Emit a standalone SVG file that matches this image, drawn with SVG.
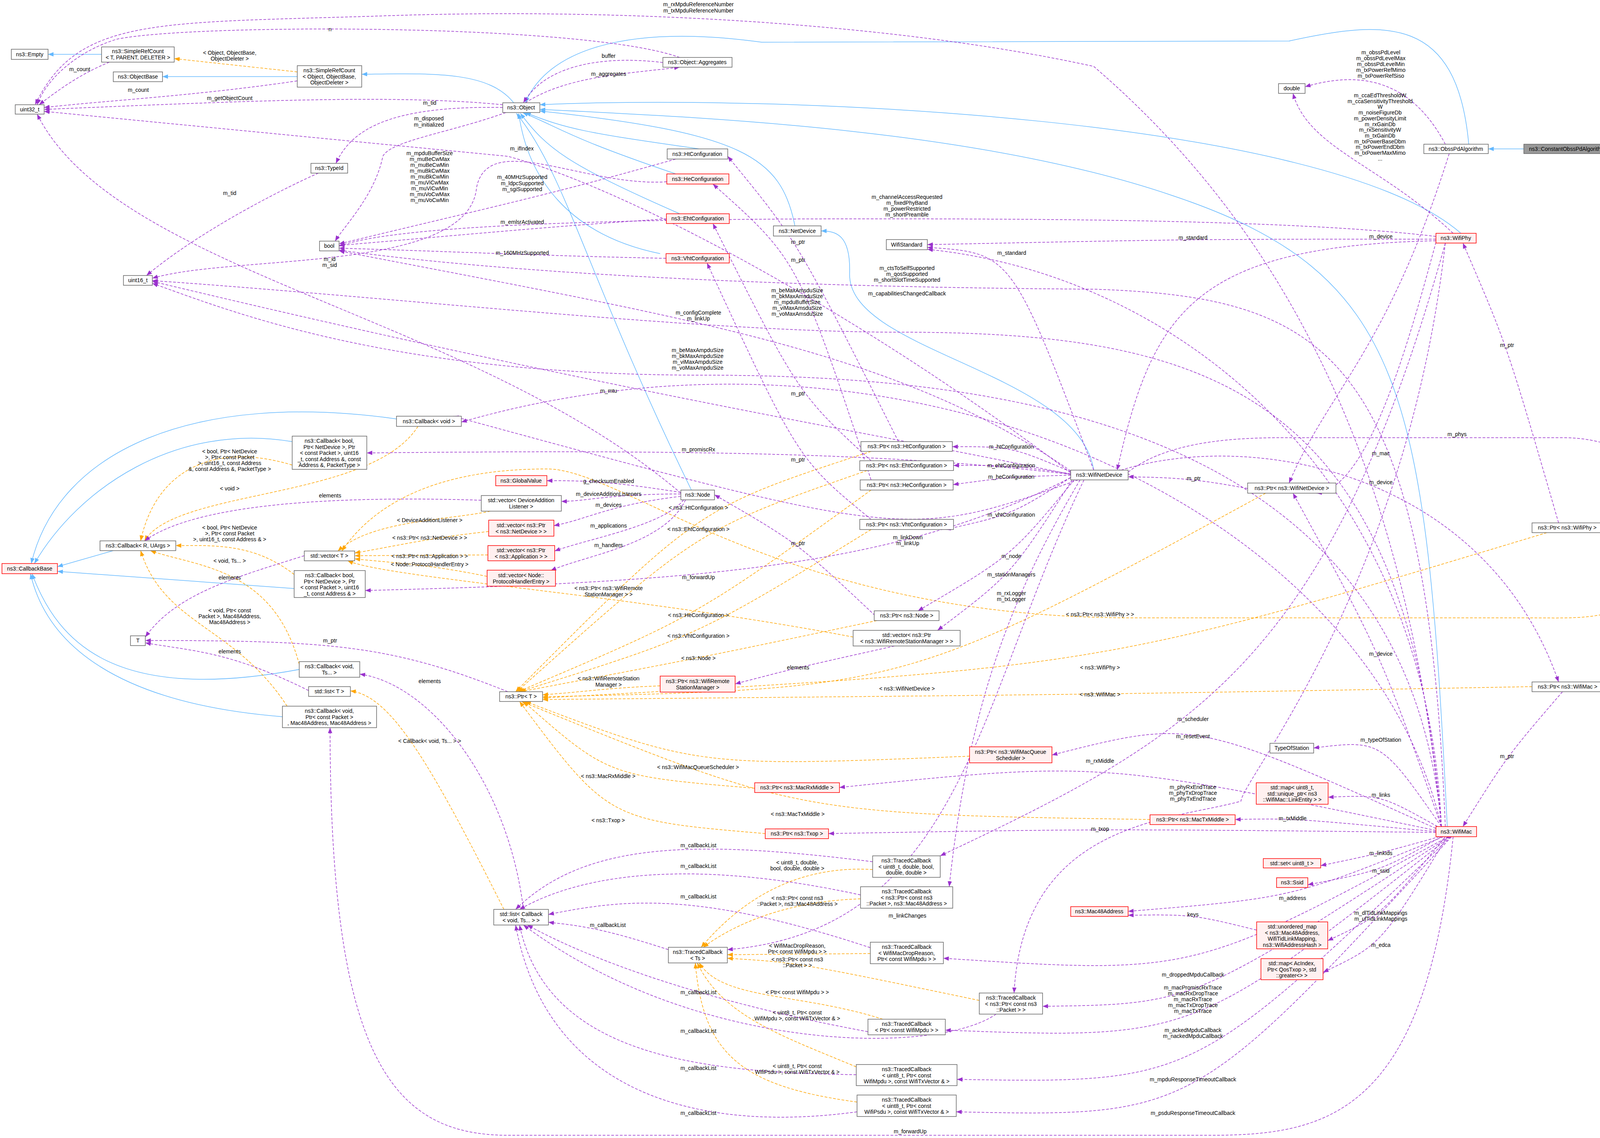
<svg xmlns="http://www.w3.org/2000/svg" width="4400" height="2912" viewBox="0 0 4400 2912">
<style>
text{font-family:"Liberation Sans",Arial,sans-serif;font-size:14px;fill:#000;text-anchor:middle}
.n rect{fill:#fff;stroke:#666;stroke-width:1.5}
.r rect{fill:#fff0f0;stroke:#ff0000;stroke-width:1.5}
.g rect{fill:#999;stroke:#666;stroke-width:1.5}
#edges path{fill:none;stroke-width:1.5}
#edges .u{stroke:#9a32cd;stroke-dasharray:7,4;marker-end:url(#mu)}
#edges .i{stroke:#63b8ff;marker-end:url(#mi)}
#edges .t{stroke:#ffa500;stroke-dasharray:7,4;marker-end:url(#mt)}
</style>
<defs>
<marker id="mu" markerUnits="userSpaceOnUse" markerWidth="16" markerHeight="12" refX="14" refY="5.5" orient="auto"><path d="M0,0 L14,5.5 L0,11 z" fill="#9a32cd"/></marker>
<marker id="mi" markerUnits="userSpaceOnUse" markerWidth="16" markerHeight="12" refX="14" refY="5.5" orient="auto"><path d="M0,0 L14,5.5 L0,11 z" fill="#63b8ff"/></marker>
<marker id="mt" markerUnits="userSpaceOnUse" markerWidth="16" markerHeight="12" refX="14" refY="5.5" orient="auto"><path d="M0,0 L14,5.5 L0,11 z" fill="#ffa500"/></marker>
</defs>
<rect width="4400" height="2912" fill="#fff"/>
<g id="edges">
<!-- inheritance -->
<path class="i" d="M260,139 L123,139"/>
<path class="i" d="M761,196 L416,196"/>
<path class="i" d="M1315,263 C1250,180 1100,188 926,190"/>
<path class="i" d="M3760,369 C3730,40 3550,50 3300,105 L1950,108 C1600,60 1400,130 1345,263"/>
<path class="i" d="M3740,597 C3400,300 2000,240 1382,268"/>
<path class="i" d="M3705,2115 C3650,1000 3600,700 3000,500 C2500,330 1800,300 1382,280"/>
<path class="i" d="M1790,381 C1500,340 1450,330 1345,288"/>
<path class="i" d="M1730,445 C1450,350 1440,330 1338,288"/>
<path class="i" d="M1740,547 C1450,420 1400,380 1332,290"/>
<path class="i" d="M1690,649 C1450,600 1350,450 1328,290"/>
<path class="i" d="M2035,578 C2000,400 1900,340 1382,284"/>
<path class="i" d="M1770,1254 C1500,700 1450,450 1322,290"/>
<path class="i" d="M2800,1203 C2760,950 2170,900 2175,700 C2178,600 2140,591 2102,591"/>
<path class="i" d="M3901,381 L3810,381"/>
<path class="i" d="M1015,1072 C500,1000 150,1150 80,1442"/>
<path class="i" d="M748,1130 C450,1080 200,1250 88,1442"/>
<path class="i" d="M290,1409 L147,1450"/>
<path class="i" d="M753,1506 L147,1462"/>
<path class="i" d="M766,1713 C300,1800 150,1650 82,1468"/>
<path class="i" d="M723,1834 C300,1800 120,1650 78,1468"/>
<!-- template -->
<path class="t" d="M761,184 L446,150"/>
<path class="t" d="M748,1190 C550,1130 400,1200 360,1384"/>
<path class="t" d="M1070,1091 C950,1280 450,1250 370,1384"/>
<path class="t" d="M753,1470 C650,1390 550,1396 450,1396"/>
<path class="t" d="M766,1700 C700,1450 500,1450 385,1409"/>
<path class="t" d="M735,1807 C600,1600 420,1600 360,1409"/>
<path class="t" d="M1255,1308 C1150,1331 950,1331 865,1410"/>
<path class="t" d="M1251,1360 C1100,1376 1000,1400 908,1415"/>
<path class="t" d="M1249,1420 L908,1422"/>
<path class="t" d="M1247,1475 C1100,1444 1000,1440 908,1430"/>
<path class="t" d="M2184,1630 C1600,1520 1000,1480 890,1435"/>
<path class="t" d="M4300,1371 C4200,1600 4100,1581 3900,1581 L2900,1581 C2000,1581 1600,1200 1400,1200 C1100,1200 950,1300 875,1410"/>
<path class="t" d="M1290,2327 C1100,1950 1000,1780 897,1768"/>
<path class="t" d="M2230,1155 C1788,1299 1788,1299 1320,1770"/>
<path class="t" d="M2220,1204 C1788,1354 1788,1354 1323,1770"/>
<path class="t" d="M2230,1254 C1788,1574 1788,1574 1326,1770"/>
<path class="t" d="M2230,1355 C1788,1627 1788,1627 1329,1770"/>
<path class="t" d="M2245,1588 C1788,1684 1788,1684 1332,1770"/>
<path class="t" d="M1690,1755 C1558,1760 1500,1770 1389,1778"/>
<path class="t" d="M3240,1262 C2322,1762 2322,1762 1389,1783"/>
<path class="t" d="M3960,1363 C2816,1708 2816,1708 1389,1786"/>
<path class="t" d="M3922,1757 C2816,1777 2816,1777 1389,1790"/>
<path class="t" d="M2482,1935 C1787,1963 1787,1963 1345,1795"/>
<path class="t" d="M1932,2017 C1557,1986 1557,1986 1340,1795"/>
<path class="t" d="M2944,2097 C2042,2083 2042,2083 1335,1795"/>
<path class="t" d="M1959,2133 C1557,2099 1557,2099 1330,1795"/>
<path class="t" d="M2234,2225 C2041,2214 1900,2300 1795,2424"/>
<path class="t" d="M2203,2300 C2041,2305 1900,2350 1800,2424"/>
<path class="t" d="M2228,2440 L1862,2443"/>
<path class="t" d="M2507,2560 C2041,2463 2041,2463 1862,2452"/>
<path class="t" d="M2260,2608 C2041,2539 1850,2560 1790,2464"/>
<path class="t" d="M2192,2730 C2000,2650 1850,2600 1785,2464"/>
<path class="t" d="M2194,2820 C1900,2780 1800,2700 1780,2464"/>
<!-- usage -->
<path class="u" d="M1740,147 C1500,60 500,60 300,100 C200,130 120,200 95,268"/>
<path class="u" d="M3690,2115 C3600,1200 3300,600 2800,170 C2300,60 1600,20 1000,40 C400,60 200,40 90,268"/>
<path class="u" d="M280,159 C204,190 150,230 100,268"/>
<path class="u" d="M761,207 C500,245 300,255 113,275"/>
<path class="u" d="M1287,268 C1000,240 600,260 113,280"/>
<path class="u" d="M1287,275 C1000,270 900,330 860,418"/>
<path class="u" d="M1295,288 C1150,340 1000,360 980,400 C960,500 880,580 858,617"/>
<path class="u" d="M2741,1210 C2200,800 1600,480 1300,400 L113,285"/>
<path class="u" d="M1707,465 C1500,480 1250,330 1220,480 C1200,700 600,650 390,712"/>
<path class="u" d="M1730,407 C1400,500 1300,520 868,624"/>
<path class="u" d="M1706,560 C1400,580 1200,600 868,628"/>
<path class="u" d="M1705,661 C1400,655 1200,645 868,635"/>
<path class="u" d="M1743,1262 C1200,800 300,700 95,292"/>
<path class="u" d="M3676,605 C3300,560 2600,560 2200,560 C1500,560 1000,580 868,630"/>
<path class="u" d="M3700,2115 C3650,900 3400,760 2800,740 C2000,735 1300,700 868,640"/>
<path class="u" d="M2741,1205 C2300,900 1788,820 868,642"/>
<path class="u" d="M2741,1214 C2300,1160 1788,1150 939,1159"/>
<path class="u" d="M2741,1222 C2300,1450 1788,1490 935,1511"/>
<path class="u" d="M2745,1215 C2200,1100 1558,1000 390,720"/>
<path class="u" d="M3690,2115 C3600,1100 2600,960 1800,960 C1000,960 600,800 390,725"/>
<path class="u" d="M815,443 C700,494 500,600 375,705"/>
<path class="u" d="M3690,2115 C3600,1000 3100,850 2300,850 C1800,850 1000,760 390,718"/>
<path class="u" d="M1697,160 C1558,143 1400,160 1340,263"/>
<path class="u" d="M1345,263 C1450,195 1600,189 1740,172"/>
<path class="u" d="M2300,1130 C2043,619 2043,619 1863,400"/>
<path class="u" d="M2230,1228 C2043,665 2043,665 1825,471"/>
<path class="u" d="M2230,1179 C2043,1007 2043,1007 1825,572"/>
<path class="u" d="M2230,1329 C2043,1176 2043,1176 1810,673"/>
<path class="u" d="M2240,1575 C2043,1390 2043,1390 1829,1266"/>
<path class="u" d="M3676,612 C3054,612 3054,612 2374,626"/>
<path class="u" d="M3676,616 C3054,630 2950,800 2860,1203"/>
<path class="u" d="M2800,1203 C2590,647 2590,647 2374,633"/>
<path class="u" d="M3690,2115 C3650,1200 3000,700 2374,638"/>
<path class="u" d="M3690,2115 C3500,1300 2322,751 1181,1080"/>
<path class="u" d="M2760,1228 C2324,1382 2324,1382 1160,1065"/>
<path class="u" d="M3700,369 C3600,180 3450,190 3341,222"/>
<path class="u" d="M3720,597 C3533,420 3350,380 3310,239"/>
<path class="u" d="M3990,1338 C3858,883 3858,883 3745,622"/>
<path class="u" d="M3676,620 C3600,900 3500,1250 3370,1262"/>
<path class="u" d="M3690,2115 C3535,1673 3535,1673 3310,1262"/>
<path class="u" d="M3710,393 C3550,900 3400,1000 3300,1236"/>
<path class="u" d="M3194,1250 C3056,1224 3000,1222 2888,1220"/>
<path class="u" d="M2888,1208 C3000,1120 3200,1120 3300,1120 L4000,1120 C4200,1120 4280,1250 4300,1331"/>
<path class="u" d="M2870,1203 C3200,1100 3800,1200 3990,1745"/>
<path class="u" d="M4239,1351 L4103,1351"/>
<path class="u" d="M4000,1770 C3858,1935 3858,1935 3745,2115"/>
<path class="u" d="M2750,1228 C2589,1423 2589,1423 2350,1563"/>
<path class="u" d="M2745,1228 C2589,1470 2589,1470 2400,1613"/>
<path class="u" d="M2741,1207 C2589,1143 2589,1143 2438,1143"/>
<path class="u" d="M2741,1212 C2589,1191 2589,1191 2441,1191"/>
<path class="u" d="M2741,1216 C2589,1220 2589,1220 2440,1240"/>
<path class="u" d="M2741,1222 C2589,1317 2589,1317 2420,1355"/>
<path class="u" d="M2290,1653 C2043,1708 2043,1708 1882,1750"/>
<path class="u" d="M2765,1228 C2589,1525 2480,1800 2430,2269"/>
<path class="u" d="M2775,1228 C2500,1800 2460,2380 1862,2430"/>
<path class="u" d="M3676,2120 C3054,1840 3054,1840 2693,1932"/>
<path class="u" d="M3700,622 C3400,1700 3054,1884 2407,2190"/>
<path class="u" d="M3676,2125 C2816,1947 2816,1947 2149,2015"/>
<path class="u" d="M3676,2128 C3309,2094 3309,2094 3162,2097"/>
<path class="u" d="M3676,2130 C2816,2121 2816,2121 2121,2133"/>
<path class="u" d="M3690,2115 C3535,1893 3535,1893 3363,1914"/>
<path class="u" d="M3680,2115 C3535,2034 3535,2034 3400,2040"/>
<path class="u" d="M3685,2141 C3535,2183 3535,2183 3381,2215"/>
<path class="u" d="M3690,2141 C3535,2228 3535,2228 3348,2264"/>
<path class="u" d="M3695,2141 C3309,2298 3309,2298 2888,2332"/>
<path class="u" d="M3217,2380 C3054,2340 3054,2340 2888,2342"/>
<path class="u" d="M3700,2141 C3535,2343 3535,2343 3399,2407"/>
<path class="u" d="M3705,2141 C3535,2418 3535,2418 3387,2488"/>
<path class="u" d="M3708,2141 C3054,2494 3054,2494 2415,2452"/>
<path class="u" d="M3710,2141 C3054,2570 3054,2570 2669,2575"/>
<path class="u" d="M3712,2141 C3054,2660 3054,2660 2420,2636"/>
<path class="u" d="M3714,2141 C3054,2772 3054,2772 2450,2762"/>
<path class="u" d="M3716,2141 C3054,2858 3054,2858 2448,2845"/>
<path class="u" d="M3720,2141 C3650,2850 3400,2905 3100,2905 L1300,2905 C1000,2905 845,2700 845,1862"/>
<path class="u" d="M3700,622 C3600,1500 3177,2000 3177,2050 C3000,2100 2620,2100 2596,2541"/>
<path class="u" d="M2234,2205 C1788,2150 1500,2150 1320,2327"/>
<path class="u" d="M2203,2290 C1788,2200 1500,2230 1330,2327"/>
<path class="u" d="M2228,2425 C1788,2280 1600,2300 1404,2340"/>
<path class="u" d="M1711,2430 C1556,2380 1500,2370 1404,2360"/>
<path class="u" d="M2222,2640 C1788,2560 1500,2450 1350,2367"/>
<path class="u" d="M2550,2595 C2400,2700 1788,2700 1340,2367"/>
<path class="u" d="M2192,2750 C1788,2745 1400,2700 1330,2367"/>
<path class="u" d="M2194,2845 C1788,2900 1400,2800 1320,2367"/>
<path class="u" d="M1340,2327 C1300,2000 1100,1750 921,1725"/>
<path class="u" d="M779,1422 C600,1478 450,1520 372,1630"/>
<path class="u" d="M790,1767 C588,1667 500,1667 372,1645"/>
<path class="u" d="M1300,1770 C1000,1650 845,1639 372,1639"/>
<path class="u" d="M1743,1260 C1558,1231 1500,1230 1400,1230"/>
<path class="u" d="M1743,1264 C1558,1264 1500,1283 1437,1283"/>
<path class="u" d="M1743,1270 C1558,1292 1500,1330 1418,1345"/>
<path class="u" d="M1750,1279 C1700,1345 1500,1380 1420,1410"/>
<path class="u" d="M1755,1279 C1700,1395 1500,1420 1410,1460"/>
<path class="u" d="M1232,1280 C845,1268 500,1290 370,1384"/>
</g>
<g id="edge-labels">
<text x="845" y="80">n</text>
<text x="1788" y="16">m_rxMpduReferenceNumber<tspan x="1788" dy="15.5">m_txMpduReferenceNumber</tspan></text>
<text x="204" y="182">m_count</text>
<text x="354" y="235">m_count</text>
<text x="588" y="256">m_getObjectCount</text>
<text x="1100" y="268">m_tid</text>
<text x="1098" y="308">m_disposed<tspan x="1098" dy="15.5">m_initialized</tspan></text>
<text x="1336" y="385">m_ifIndex</text>
<text x="1100" y="397">m_mpduBufferSize<tspan x="1100" dy="15">m_muBeCwMax</tspan><tspan x="1100" dy="15">m_muBeCwMin</tspan><tspan x="1100" dy="15">m_muBkCwMax</tspan><tspan x="1100" dy="15">m_muBkCwMin</tspan><tspan x="1100" dy="15">m_muViCwMax</tspan><tspan x="1100" dy="15">m_muViCwMin</tspan><tspan x="1100" dy="15">m_muVoCwMax</tspan><tspan x="1100" dy="15">m_muVoCwMin</tspan></text>
<text x="1337" y="458">m_40MHzSupported<tspan x="1337" dy="15.5">m_ldpcSupported</tspan><tspan x="1337" dy="15.5">m_sgiSupported</tspan></text>
<text x="1337" y="573">m_emlsrActivated</text>
<text x="1337" y="652">m_160MHzSupported</text>
<text x="844" y="668">m_id<tspan x="844" dy="15">m_sid</tspan></text>
<text x="588" y="499">m_tid</text>
<text x="1558" y="148">buffer</text>
<text x="1558" y="194">m_aggregates</text>
<text x="2322" y="509">m_channelAccessRequested<tspan x="2322" dy="15">m_fixedPhyBand</tspan><tspan x="2322" dy="15">m_powerRestricted</tspan><tspan x="2322" dy="15">m_shortPreamble</tspan></text>
<text x="2043" y="624">m_ptr</text>
<text x="2043" y="670">m_ptr</text>
<text x="2590" y="652">m_standard</text>
<text x="3054" y="613">m_standard</text>
<text x="3535" y="610">m_device</text>
<text x="2322" y="691">m_ctsToSelfSupported<tspan x="2322" dy="15">m_qosSupported</tspan><tspan x="2322" dy="15">m_shortSlotTimeSupported</tspan></text>
<text x="2322" y="756">m_capabilitiesChangedCallback</text>
<text x="2041" y="748">m_beMaxAmsduSize<tspan x="2041" dy="15">m_bkMaxAmsduSize</tspan><tspan x="2041" dy="15">m_mpduBufferSize</tspan><tspan x="2041" dy="15">m_viMaxAmsduSize</tspan><tspan x="2041" dy="15">m_voMaxAmsduSize</tspan></text>
<text x="1788" y="805">m_configComplete<tspan x="1788" dy="15">m_linkUp</tspan></text>
<text x="1786" y="901">m_beMaxAmpduSize<tspan x="1786" dy="15">m_bkMaxAmpduSize</tspan><tspan x="1786" dy="15">m_viMaxAmpduSize</tspan><tspan x="1786" dy="15">m_voMaxAmpduSize</tspan></text>
<text x="1558" y="1005">m_mtu</text>
<text x="2043" y="1012">m_ptr</text>
<text x="3535" y="139">m_obssPdLevel<tspan x="3535" dy="15">m_obssPdLevelMax</tspan><tspan x="3535" dy="15">m_obssPdLevelMin</tspan><tspan x="3535" dy="15">m_txPowerRefMimo</tspan><tspan x="3535" dy="15">m_txPowerRefSiso</tspan></text>
<text x="3533" y="249">m_ccaEdThresholdW<tspan x="3533" dy="14.7">m_ccaSensitivityThreshold</tspan><tspan x="3533" dy="14.7">W</tspan><tspan x="3533" dy="14.7">m_noiseFigureDb</tspan><tspan x="3533" dy="14.7">m_powerDensityLimit</tspan><tspan x="3533" dy="14.7">m_rxGainDb</tspan><tspan x="3533" dy="14.7">m_rxSensitivityW</tspan><tspan x="3533" dy="14.7">m_txGainDb</tspan><tspan x="3533" dy="14.7">m_txPowerBaseDbm</tspan><tspan x="3533" dy="14.7">m_txPowerEndDbm</tspan><tspan x="3533" dy="14.7">m_txPowerMaxMimo</tspan><tspan x="3533" dy="14.7">...</tspan></text>
<text x="3858" y="888">m_ptr</text>
<text x="588" y="140">&lt; Object, ObjectBase,<tspan x="588" dy="15">ObjectDeleter &gt;</tspan></text>
<text x="588" y="1160">&lt; bool, Ptr&lt; NetDevice<tspan x="588" dy="15">&gt;, Ptr&lt; const Packet</tspan><tspan x="588" dy="15">&gt;, uint16_t, const Address</tspan><tspan x="588" dy="15">&amp;, const Address &amp;, PacketType &gt;</tspan></text>
<text x="588" y="1255">&lt; void &gt;</text>
<text x="845" y="1273">elements</text>
<text x="588" y="1355">&lt; bool, Ptr&lt; NetDevice<tspan x="588" dy="15">&gt;, Ptr&lt; const Packet</tspan><tspan x="588" dy="15">&gt;, uint16_t, const Address &amp; &gt;</tspan></text>
<text x="588" y="1440">&lt; void, Ts... &gt;</text>
<text x="588" y="1483">elements</text>
<text x="588" y="1567">&lt; void, Ptr&lt; const<tspan x="588" dy="15">Packet &gt;, Mac48Address,</tspan><tspan x="588" dy="15">Mac48Address &gt;</tspan></text>
<text x="845" y="1644">m_ptr</text>
<text x="588" y="1672">elements</text>
<text x="1100" y="1748">elements</text>
<text x="1100" y="1901">&lt; Callback&lt; void, Ts... &gt; &gt;</text>
<text x="1100" y="1336">&lt; DeviceAdditionListener &gt;</text>
<text x="1100" y="1381">&lt; ns3::Ptr&lt; ns3::NetDevice &gt; &gt;</text>
<text x="1100" y="1428">&lt; ns3::Ptr&lt; ns3::Application &gt; &gt;</text>
<text x="1100" y="1449">&lt; Node::ProtocolHandlerEntry &gt;</text>
<text x="1558" y="1236">g_checksumEnabled</text>
<text x="1558" y="1269">m_deviceAdditionListeners</text>
<text x="1558" y="1297">m_devices</text>
<text x="1558" y="1350">m_applications</text>
<text x="1558" y="1400">m_handlers</text>
<text x="1788" y="1155">m_promiscRx</text>
<text x="2043" y="1181">m_ptr</text>
<text x="2043" y="1395">m_ptr</text>
<text x="1788" y="1304">&lt; ns3::HtConfiguration &gt;</text>
<text x="1788" y="1359">&lt; ns3::EhtConfiguration &gt;</text>
<text x="1788" y="1482">m_forwardUp</text>
<text x="1558" y="1510">&lt; ns3::Ptr&lt; ns3::WifiRemote<tspan x="1558" dy="15.5">StationManager &gt; &gt;</tspan></text>
<text x="1788" y="1579">&lt; ns3::HeConfiguration &gt;</text>
<text x="1788" y="1632">&lt; ns3::VhtConfiguration &gt;</text>
<text x="1788" y="1689">&lt; ns3::Node &gt;</text>
<text x="1558" y="1741">&lt; ns3::WifiRemoteStation<tspan x="1558" dy="15.5">Manager &gt;</tspan></text>
<text x="2043" y="1713">elements</text>
<text x="2322" y="1767">&lt; ns3::WifiNetDevice &gt;</text>
<text x="2589" y="1148">m_htConfiguration</text>
<text x="2589" y="1196">m_ehtConfiguration</text>
<text x="2589" y="1225">m_heConfiguration</text>
<text x="2589" y="1322">m_vhtConfiguration</text>
<text x="2324" y="1380">m_linkDown<tspan x="2324" dy="15">m_linkUp</tspan></text>
<text x="2589" y="1428">m_node</text>
<text x="2589" y="1475">m_stationManagers</text>
<text x="2589" y="1523">m_rxLogger<tspan x="2589" dy="15">m_txLogger</tspan></text>
<text x="3730" y="1116">m_phys</text>
<text x="3535" y="1165">m_mac</text>
<text x="3056" y="1229">m_ptr</text>
<text x="3535" y="1239">m_device</text>
<text x="4183" y="1348">elements</text>
<text x="2816" y="1577">&lt; ns3::Ptr&lt; ns3::WifiPhy &gt; &gt;</text>
<text x="3535" y="1678">m_device</text>
<text x="2816" y="1713">&lt; ns3::WifiPhy &gt;</text>
<text x="2816" y="1782">&lt; ns3::WifiMac &gt;</text>
<text x="3054" y="1845">m_scheduler</text>
<text x="3054" y="1889">m_resetEvent</text>
<text x="3535" y="1898">m_typeOfStation</text>
<text x="3858" y="1940">m_ptr</text>
<text x="2816" y="1952">m_rxMiddle</text>
<text x="1787" y="1968">&lt; ns3::WifiMacQueueScheduler &gt;</text>
<text x="1557" y="1991">&lt; ns3::MacRxMiddle &gt;</text>
<text x="3054" y="2019">m_phyRxEndTrace<tspan x="3054" dy="15">m_phyTxDropTrace</tspan><tspan x="3054" dy="15">m_phyTxEndTrace</tspan></text>
<text x="3535" y="2039">m_links</text>
<text x="2042" y="2088">&lt; ns3::MacTxMiddle &gt;</text>
<text x="3309" y="2099">m_txMiddle</text>
<text x="1557" y="2104">&lt; ns3::Txop &gt;</text>
<text x="2816" y="2126">m_txop</text>
<text x="1788" y="2168">m_callbackList</text>
<text x="3535" y="2188">m_linkIds</text>
<text x="2041" y="2212">&lt; uint8_t, double,<tspan x="2041" dy="15">bool, double, double &gt;</tspan></text>
<text x="1788" y="2221">m_callbackList</text>
<text x="3535" y="2233">m_ssid</text>
<text x="1788" y="2299">m_callbackList</text>
<text x="2041" y="2303">&lt; ns3::Ptr&lt; const ns3<tspan x="2041" dy="15">::Packet &gt;, ns3::Mac48Address &gt;</tspan></text>
<text x="3309" y="2303">m_address</text>
<text x="3054" y="2345">keys</text>
<text x="3535" y="2341">m_dlTidLinkMappings<tspan x="3535" dy="15">m_ulTidLinkMappings</tspan></text>
<text x="2323" y="2348">m_linkChanges</text>
<text x="1556" y="2372">m_callbackList</text>
<text x="3535" y="2423">m_edca</text>
<text x="2041" y="2425">&lt; WifiMacDropReason,<tspan x="2041" dy="15">Ptr&lt; const WifiMpdu &gt; &gt;</tspan></text>
<text x="2041" y="2460">&lt; ns3::Ptr&lt; const ns3<tspan x="2041" dy="15">::Packet &gt; &gt;</tspan></text>
<text x="3054" y="2499">m_droppedMpduCallback</text>
<text x="3054" y="2532">m_macPromiscRxTrace<tspan x="3054" dy="15">m_macRxDropTrace</tspan><tspan x="3054" dy="15">m_macRxTrace</tspan><tspan x="3054" dy="15">m_macTxDropTrace</tspan><tspan x="3054" dy="15">m_macTxTrace</tspan></text>
<text x="2041" y="2544">&lt; Ptr&lt; const WifiMpdu &gt; &gt;</text>
<text x="1788" y="2544">m_callbackList</text>
<text x="2041" y="2596">&lt; uint8_t, Ptr&lt; const<tspan x="2041" dy="15">WifiMpdu &gt;, const WifiTxVector &amp; &gt;</tspan></text>
<text x="1788" y="2643">m_callbackList</text>
<text x="3054" y="2641">m_ackedMpduCallback<tspan x="3054" dy="15">m_nackedMpduCallback</tspan></text>
<text x="2041" y="2733">&lt; uint8_t, Ptr&lt; const<tspan x="2041" dy="15">WifiPsdu &gt;, const WifiTxVector &amp; &gt;</tspan></text>
<text x="1788" y="2738">m_callbackList</text>
<text x="3054" y="2767">m_mpduResponseTimeoutCallback</text>
<text x="1788" y="2853">m_callbackList</text>
<text x="3054" y="2853">m_psduResponseTimeoutCallback</text>
<text x="2330" y="2900">m_forwardUp</text>
</g>
<g id="n1" class="n"><rect x="29" y="126" width="94" height="26"/><text x="76" y="144">ns3::Empty</text></g>
<g id="n2" class="n"><rect x="260" y="120" width="186" height="39"/><text x="353" y="136">ns3::SimpleRefCount<tspan x="353" dy="15.5">&lt; T, PARENT, DELETER &gt;</tspan></text></g>
<g id="n3" class="n"><rect x="290" y="184" width="126" height="25"/><text x="353" y="201">ns3::ObjectBase</text></g>
<g id="n4" class="n"><rect x="761" y="168" width="165" height="55"/><text x="843" y="185">ns3::SimpleRefCount<tspan x="843" dy="15.5">&lt; Object, ObjectBase,</tspan><tspan x="843" dy="15.5">ObjectDeleter &gt;</tspan></text></g>
<g id="n5" class="n"><rect x="39" y="268" width="74" height="24"/><text x="76" y="285">uint32_t</text></g>
<g id="n6" class="n"><rect x="1287" y="263" width="95" height="25"/><text x="1334" y="280">ns3::Object</text></g>
<g id="n7" class="n"><rect x="796" y="418" width="94" height="25"/><text x="843" y="435">ns3::TypeId</text></g>
<g id="n8" class="n"><rect x="818" y="617" width="50" height="25"/><text x="843" y="634">bool</text></g>
<g id="n9" class="n"><rect x="316" y="705" width="74" height="25"/><text x="353" y="722">uint16_t</text></g>
<g id="n10" class="n"><rect x="1697" y="147" width="177" height="25"/><text x="1785" y="164">ns3::Object::Aggregates</text></g>
<g id="n11" class="n"><rect x="1708" y="381" width="155" height="26"/><text x="1785" y="399">ns3::HtConfiguration</text></g>
<g id="n12" class="r"><rect x="1707" y="445" width="159" height="26"/><text x="1786" y="463">ns3::HeConfiguration</text></g>
<g id="n13" class="r"><rect x="1706" y="547" width="161" height="25"/><text x="1786" y="564">ns3::EhtConfiguration</text></g>
<g id="n14" class="r"><rect x="1705" y="649" width="162" height="24"/><text x="1786" y="666">ns3::VhtConfiguration</text></g>
<g id="n15" class="n"><rect x="1980" y="578" width="122" height="26"/><text x="2041" y="596">ns3::NetDevice</text></g>
<g id="n16" class="n"><rect x="2269" y="613" width="105" height="26"/><text x="2321" y="631">WifiStandard</text></g>
<g id="n17" class="n"><rect x="3273" y="214" width="68" height="25"/><text x="3307" y="231">double</text></g>
<g id="n18" class="n"><rect x="3645" y="369" width="165" height="24"/><text x="3727" y="386">ns3::ObssPdAlgorithm</text></g>
<g id="n19" class="g"><rect x="3901" y="369" width="222" height="24"/><text x="4012" y="386">ns3::ConstantObssPdAlgorithm</text></g>
<g id="n20" class="r"><rect x="3676" y="597" width="103" height="25"/><text x="3727" y="614">ns3::WifiPhy</text></g>
<g id="n21" class="n"><rect x="1015" y="1065" width="166" height="26"/><text x="1098" y="1083">ns3::Callback&lt; void &gt;</text></g>
<g id="n22" class="n"><rect x="748" y="1116" width="191" height="85"/><text x="843" y="1133">ns3::Callback&lt; bool,<tspan x="843" dy="15.5">Ptr&lt; NetDevice &gt;, Ptr</tspan><tspan x="843" dy="15.5">&lt; const Packet &gt;, uint16</tspan><tspan x="843" dy="15.5">_t, const Address &amp;, const</tspan><tspan x="843" dy="15.5">Address &amp;, PacketType &gt;</tspan></text></g>
<g id="n23" class="r"><rect x="1269" y="1217" width="131" height="26"/><text x="1334" y="1235">ns3::GlobalValue</text></g>
<g id="n24" class="n"><rect x="1232" y="1268" width="205" height="40"/><text x="1334" y="1285">std::vector&lt; DeviceAddition<tspan x="1334" dy="15.5">Listener &gt;</tspan></text></g>
<g id="n25" class="r"><rect x="1251" y="1331" width="167" height="41"/><text x="1334" y="1349">std::vector&lt; ns3::Ptr<tspan x="1334" dy="15.5">&lt; ns3::NetDevice &gt; &gt;</tspan></text></g>
<g id="n26" class="r"><rect x="1249" y="1396" width="171" height="39"/><text x="1334" y="1413">std::vector&lt; ns3::Ptr<tspan x="1334" dy="15.5">&lt; ns3::Application &gt; &gt;</tspan></text></g>
<g id="n27" class="r"><rect x="1247" y="1459" width="175" height="41"/><text x="1334" y="1477">std::vector&lt; Node::<tspan x="1334" dy="15.5">ProtocolHandlerEntry &gt;</tspan></text></g>
<g id="n28" class="n"><rect x="256" y="1384" width="194" height="25"/><text x="353" y="1401">ns3::Callback&lt; R, UArgs &gt;</text></g>
<g id="n29" class="r"><rect x="5" y="1442" width="142" height="26"/><text x="76" y="1460">ns3::CallbackBase</text></g>
<g id="n30" class="n"><rect x="779" y="1410" width="129" height="25"/><text x="843" y="1427">std::vector&lt; T &gt;</text></g>
<g id="n31" class="n"><rect x="753" y="1460" width="182" height="69"/><text x="844" y="1477">ns3::Callback&lt; bool,<tspan x="844" dy="15.5">Ptr&lt; NetDevice &gt;, Ptr</tspan><tspan x="844" dy="15.5">&lt; const Packet &gt;, uint16</tspan><tspan x="844" dy="15.5">_t, const Address &amp; &gt;</tspan></text></g>
<g id="n32" class="n"><rect x="334" y="1627" width="38" height="25"/><text x="353" y="1644">T</text></g>
<g id="n33" class="n"><rect x="766" y="1693" width="155" height="40"/><text x="843" y="1710">ns3::Callback&lt; void,<tspan x="843" dy="15.5">Ts... &gt;</tspan></text></g>
<g id="n34" class="n"><rect x="790" y="1757" width="107" height="25"/><text x="843" y="1774">std::list&lt; T &gt;</text></g>
<g id="n35" class="n"><rect x="723" y="1807" width="241" height="55"/><text x="843" y="1824">ns3::Callback&lt; void,<tspan x="843" dy="15.5">Ptr&lt; const Packet &gt;</tspan><tspan x="843" dy="15.5">, Mac48Address, Mac48Address &gt;</tspan></text></g>
<g id="n36" class="n"><rect x="1279" y="1770" width="110" height="25"/><text x="1334" y="1787">ns3::Ptr&lt; T &gt;</text></g>
<g id="n37" class="n"><rect x="1743" y="1254" width="86" height="25"/><text x="1786" y="1271">ns3::Node</text></g>
<g id="n38" class="n"><rect x="2204" y="1130" width="234" height="25"/><text x="2321" y="1147">ns3::Ptr&lt; ns3::HtConfiguration &gt;</text></g>
<g id="n39" class="n"><rect x="2201" y="1179" width="240" height="25"/><text x="2321" y="1196">ns3::Ptr&lt; ns3::EhtConfiguration &gt;</text></g>
<g id="n40" class="n"><rect x="2202" y="1228" width="238" height="26"/><text x="2321" y="1246">ns3::Ptr&lt; ns3::HeConfiguration &gt;</text></g>
<g id="n41" class="n"><rect x="2201" y="1329" width="240" height="26"/><text x="2321" y="1347">ns3::Ptr&lt; ns3::VhtConfiguration &gt;</text></g>
<g id="n42" class="n"><rect x="2238" y="1563" width="166" height="25"/><text x="2321" y="1580">ns3::Ptr&lt; ns3::Node &gt;</text></g>
<g id="n43" class="n"><rect x="2184" y="1613" width="274" height="40"/><text x="2321" y="1630">std::vector&lt; ns3::Ptr<tspan x="2321" dy="15.5">&lt; ns3::WifiRemoteStationManager &gt; &gt;</tspan></text></g>
<g id="n44" class="r"><rect x="1690" y="1730" width="192" height="41"/><text x="1786" y="1748">ns3::Ptr&lt; ns3::WifiRemote<tspan x="1786" dy="15.5">StationManager &gt;</tspan></text></g>
<g id="n45" class="n"><rect x="2741" y="1203" width="147" height="25"/><text x="2814" y="1220">ns3::WifiNetDevice</text></g>
<g id="n46" class="n"><rect x="3194" y="1236" width="226" height="26"/><text x="3307" y="1254">ns3::Ptr&lt; ns3::WifiNetDevice &gt;</text></g>
<g id="n47" class="n"><rect x="3922" y="1338" width="181" height="25"/><text x="4012" y="1355">ns3::Ptr&lt; ns3::WifiPhy &gt;</text></g>
<g id="n48" class="n"><rect x="4239" y="1331" width="154" height="40"/><text x="4316" y="1348">std::vector&lt; ns3::Ptr<tspan x="4316" dy="15.5">&lt; ns3::WifiPhy &gt; &gt;</tspan></text></g>
<g id="n49" class="n"><rect x="3922" y="1745" width="182" height="25"/><text x="4013" y="1762">ns3::Ptr&lt; ns3::WifiMac &gt;</text></g>
<g id="n50" class="n"><rect x="3251" y="1902" width="112" height="25"/><text x="3307" y="1919">TypeOfStation</text></g>
<g id="n51" class="r"><rect x="2482" y="1911" width="211" height="41"/><text x="2587" y="1929">ns3::Ptr&lt; ns3::WifiMacQueue<tspan x="2587" dy="15.5">Scheduler &gt;</tspan></text></g>
<g id="n52" class="r"><rect x="1932" y="2003" width="217" height="25"/><text x="2040" y="2020">ns3::Ptr&lt; ns3::MacRxMiddle &gt;</text></g>
<g id="n53" class="r"><rect x="1959" y="2121" width="162" height="25"/><text x="2040" y="2138">ns3::Ptr&lt; ns3::Txop &gt;</text></g>
<g id="n54" class="n"><rect x="2234" y="2190" width="173" height="55"/><text x="2320" y="2207">ns3::TracedCallback<tspan x="2320" dy="15.5">&lt; uint8_t, double, bool,</tspan><tspan x="2320" dy="15.5">double, double &gt;</tspan></text></g>
<g id="n55" class="n"><rect x="2203" y="2269" width="236" height="55"/><text x="2321" y="2286">ns3::TracedCallback<tspan x="2321" dy="15.5">&lt; ns3::Ptr&lt; const ns3</tspan><tspan x="2321" dy="15.5">::Packet &gt;, ns3::Mac48Address &gt;</tspan></text></g>
<g id="n56" class="n"><rect x="1264" y="2327" width="140" height="40"/><text x="1334" y="2344">std::list&lt; Callback<tspan x="1334" dy="15.5">&lt; void, Ts... &gt; &gt;</tspan></text></g>
<g id="n57" class="n"><rect x="1711" y="2424" width="151" height="40"/><text x="1786" y="2441">ns3::TracedCallback<tspan x="1786" dy="15.5">&lt; Ts &gt;</tspan></text></g>
<g id="n58" class="n"><rect x="2228" y="2411" width="187" height="55"/><text x="2321" y="2428">ns3::TracedCallback<tspan x="2321" dy="15.5">&lt; WifiMacDropReason,</tspan><tspan x="2321" dy="15.5">Ptr&lt; const WifiMpdu &gt; &gt;</tspan></text></g>
<g id="n59" class="n"><rect x="2507" y="2541" width="162" height="54"/><text x="2588" y="2558">ns3::TracedCallback<tspan x="2588" dy="15.5">&lt; ns3::Ptr&lt; const ns3</tspan><tspan x="2588" dy="15.5">::Packet &gt; &gt;</tspan></text></g>
<g id="n60" class="n"><rect x="2222" y="2608" width="198" height="40"/><text x="2321" y="2625">ns3::TracedCallback<tspan x="2321" dy="15.5">&lt; Ptr&lt; const WifiMpdu &gt; &gt;</tspan></text></g>
<g id="n61" class="n"><rect x="2192" y="2724" width="258" height="54"/><text x="2321" y="2741">ns3::TracedCallback<tspan x="2321" dy="15.5">&lt; uint8_t, Ptr&lt; const</tspan><tspan x="2321" dy="15.5">WifiMpdu &gt;, const WifiTxVector &amp; &gt;</tspan></text></g>
<g id="n62" class="n"><rect x="2194" y="2802" width="254" height="55"/><text x="2321" y="2819">ns3::TracedCallback<tspan x="2321" dy="15.5">&lt; uint8_t, Ptr&lt; const</tspan><tspan x="2321" dy="15.5">WifiPsdu &gt;, const WifiTxVector &amp; &gt;</tspan></text></g>
<g id="n63" class="r"><rect x="2741" y="2320" width="147" height="25"/><text x="2814" y="2337">ns3::Mac48Address</text></g>
<g id="n64" class="r"><rect x="3216" y="2003" width="184" height="55"/><text x="3308" y="2020">std::map&lt; uint8_t,<tspan x="3308" dy="15.5">std::unique_ptr&lt; ns3</tspan><tspan x="3308" dy="15.5">::WifiMac::LinkEntity &gt; &gt;</tspan></text></g>
<g id="n65" class="r"><rect x="2944" y="2085" width="218" height="25"/><text x="3053" y="2102">ns3::Ptr&lt; ns3::MacTxMiddle &gt;</text></g>
<g id="n66" class="r"><rect x="3676" y="2115" width="104" height="26"/><text x="3728" y="2133">ns3::WifiMac</text></g>
<g id="n67" class="r"><rect x="3234" y="2197" width="147" height="24"/><text x="3307" y="2214">std::set&lt; uint8_t &gt;</text></g>
<g id="n68" class="r"><rect x="3268" y="2246" width="80" height="25"/><text x="3308" y="2263">ns3::Ssid</text></g>
<g id="n69" class="r"><rect x="3217" y="2359" width="182" height="69"/><text x="3308" y="2376">std::unordered_map<tspan x="3308" dy="15.5">&lt; ns3::Mac48Address,</tspan><tspan x="3308" dy="15.5">WifiTidLinkMapping,</tspan><tspan x="3308" dy="15.5">ns3::WifiAddressHash &gt;</tspan></text></g>
<g id="n70" class="r"><rect x="3228" y="2453" width="159" height="54"/><text x="3307" y="2470">std::map&lt; AcIndex,<tspan x="3307" dy="15.5">Ptr&lt; QosTxop &gt;, std</tspan><tspan x="3307" dy="15.5">::greater&lt;&gt; &gt;</tspan></text></g>
</svg>
